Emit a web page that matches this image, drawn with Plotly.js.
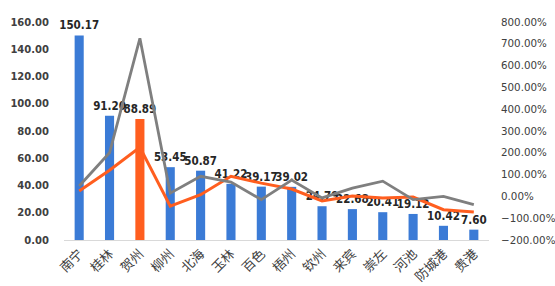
<!DOCTYPE html>
<html><head><meta charset="utf-8">
<script src="https://cdn.plot.ly/plotly-3.0.1.min.js"></script>
<style>html,body{margin:0;padding:0;background:#fff}#chart{width:555px;height:286px}</style>
</head><body><div id="chart"></div>
<script>
const cities = ["南宁","桂林","贺州","柳州","北海","玉林","百色","梧州","钦州","来宾","崇左","河池","防城港","贵港"];
const barValues = [150.17,91.20,88.89,53.45,50.87,41.22,39.17,39.02,24.79,22.68,20.41,19.12,10.42,7.60];
const grayLine = [48,200,725,15,92,66,-15,75,-7,38,70,-15,0,-38];
const orangeLine = [25,120,225,-45,8,92,61,34,-21,2,-7,-3,-61,-71];
const highlightCity = "贺州";

const BLUE = "#3B7BD6", ORANGE = "#FF5E1F";
const barColors = cities.map(c => c === highlightCity ? ORANGE : BLUE);

const traces = [
  {type:"bar", x:cities, y:barValues, marker:{color:barColors},
   text:barValues.map(v=>v.toFixed(2)), textposition:"outside", cliponaxis:false, constraintext:"none",
   textfont:{family:"DejaVu Sans Condensed", size:11.5, color:"#262626", weight:"bold"},
   hoverinfo:"none"},
  {type:"scatter", mode:"lines", x:cities, y:orangeLine, yaxis:"y2",
   line:{color:ORANGE, width:3}, hoverinfo:"none"},
  {type:"scatter", mode:"lines", x:cities, y:grayLine, yaxis:"y2",
   line:{color:"#7F7F7F", width:2.8}, hoverinfo:"none"}
];

const layout = {
  width:555, height:286,
  margin:{l:64, r:66, t:22, b:46},
  paper_bgcolor:"#fff", plot_bgcolor:"#fff",
  showlegend:false, bargap:0.7,
  xaxis:{type:"category", tickangle:-45, showgrid:false, showline:true, linecolor:"#D9D9D9", linewidth:1,
         ticks:"", tickfont:{family:"Noto Sans CJK SC", size:13, color:"#404040"}, fixedrange:true},
  yaxis:{range:[0,160], dtick:20, showgrid:false, zeroline:false, showline:false,
         tickformat:".2f", ticks:"", ticklabelstandoff:14,
         tickfont:{family:"DejaVu Sans", size:10, color:"#404040", weight:"bold"}},
  yaxis2:{overlaying:"y", side:"right", range:[-200,800], dtick:100, showgrid:false, zeroline:false,
          ticksuffix:"%", tickformat:".2f", ticks:"", ticklabelstandoff:11,
          tickfont:{family:"DejaVu Sans", size:10.3, color:"#404040"}}
};
Plotly.newPlot("chart", traces, layout, {staticPlot:true});
</script></body></html>
